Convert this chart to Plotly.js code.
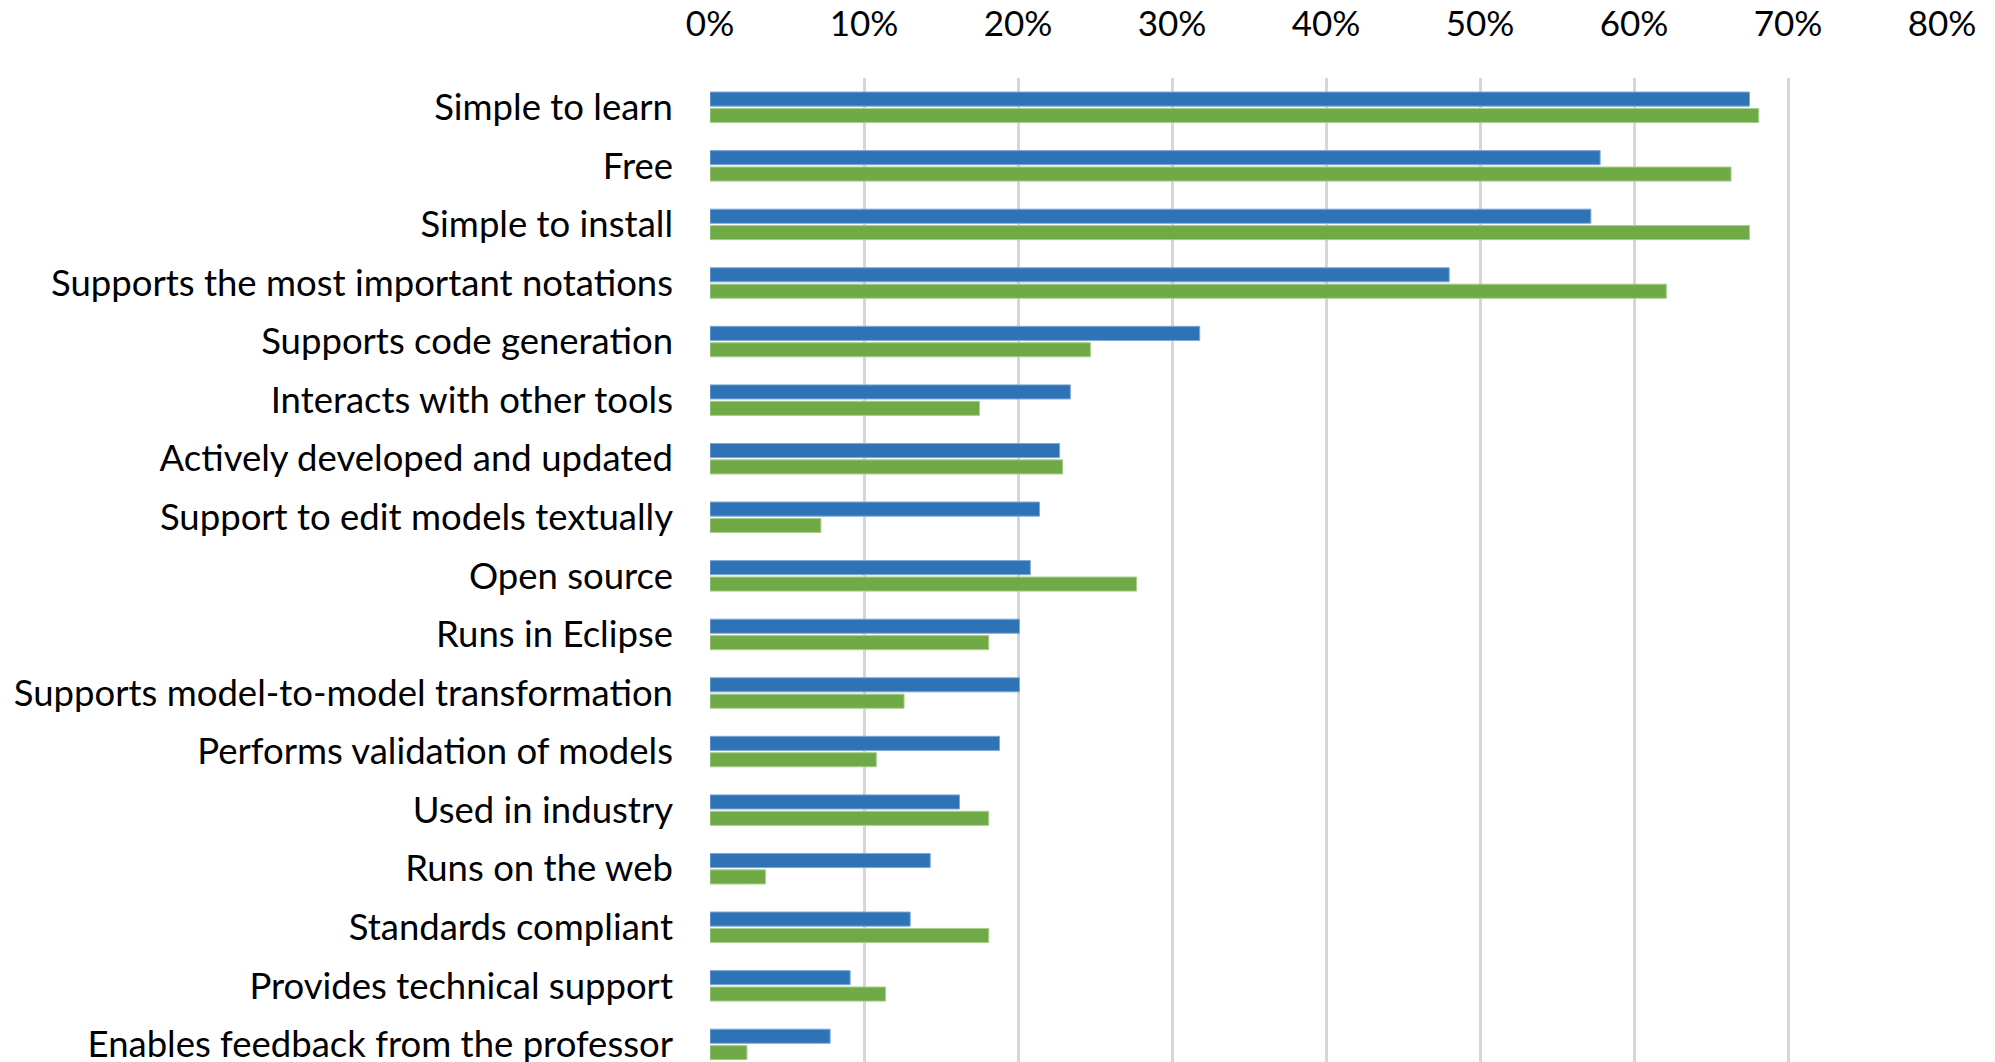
<!DOCTYPE html>
<html>
<head>
<meta charset="utf-8">
<script src="https://cdn.plot.ly/plotly-3.0.1.min.js"></script>
<style>
html,body{margin:0;padding:0;background:#fff;}
#chart{width:1995px;height:1062px;}
</style>
</head>
<body>
<div id="chart"></div>
<script>
const categories = [
  "Simple to learn",
  "Free",
  "Simple to install",
  "Supports the most important notations",
  "Supports code generation",
  "Interacts with other tools",
  "Actively developed and updated",
  "Support to edit models textually",
  "Open source",
  "Runs in Eclipse",
  "Supports model-to-model transformation",
  "Performs validation of models",
  "Used in industry",
  "Runs on the web",
  "Standards compliant",
  "Provides technical support",
  "Enables feedback from the professor"
];
const seriesBlue = [0.675, 0.578, 0.572, 0.480, 0.318, 0.234, 0.227, 0.214, 0.208, 0.201, 0.201, 0.188, 0.162, 0.143, 0.130, 0.091, 0.078];
const seriesGreen = [0.681, 0.663, 0.675, 0.621, 0.247, 0.175, 0.229, 0.072, 0.277, 0.181, 0.126, 0.108, 0.181, 0.036, 0.181, 0.114, 0.024];
const xTickVals = [0, 0.1, 0.2, 0.3, 0.4, 0.5, 0.6, 0.7, 0.8];
const xTickText = ["0%", "10%", "20%", "30%", "40%", "50%", "60%", "70%", "80%"];

const FONT = "Lato, 'Open Sans', sans-serif";

const traces = [
  {type: "bar", orientation: "h", name: "Series 1", y: categories, x: seriesBlue,
   marker: {color: "#2E73B6", line: {color: "#7FA8D6", width: 1}}, hoverinfo: "x+y"},
  {type: "bar", orientation: "h", name: "Series 2", y: categories, x: seriesGreen,
   marker: {color: "#6FAA46", line: {color: "#A9CF8E", width: 1}}, hoverinfo: "x+y"}
];

const layout = {
  width: 1995, height: 1062,
  margin: {l: 710, r: 53, t: 78, b: 0, pad: 0},
  paper_bgcolor: "#ffffff", plot_bgcolor: "#ffffff",
  showlegend: false,
  barmode: "group",
  bargap: 0.44,
  bargroupgap: 0.14,
  font: {family: FONT, color: "#000000", size: 36},
  xaxis: {
    side: "top", range: [0, 0.8], tickvals: xTickVals, ticktext: xTickText,
    showgrid: true, gridcolor: "#D6D6D6", gridwidth: 3,
    zeroline: false, showline: false, ticks: "", ticklabelstandoff: 34,
    tickfont: {family: FONT, size: 35, color: "#000"}, fixedrange: true
  },
  yaxis: {
    type: "category", range: [16.3, -0.5], showgrid: false, zeroline: false,
    showline: false, ticks: "", ticklabelstandoff: 36,
    tickfont: {family: FONT, size: 36.5, color: "#000"}, fixedrange: true
  }
};

Plotly.newPlot("chart", traces, layout, {displayModeBar: false, staticPlot: true});
</script>
</body>
</html>
